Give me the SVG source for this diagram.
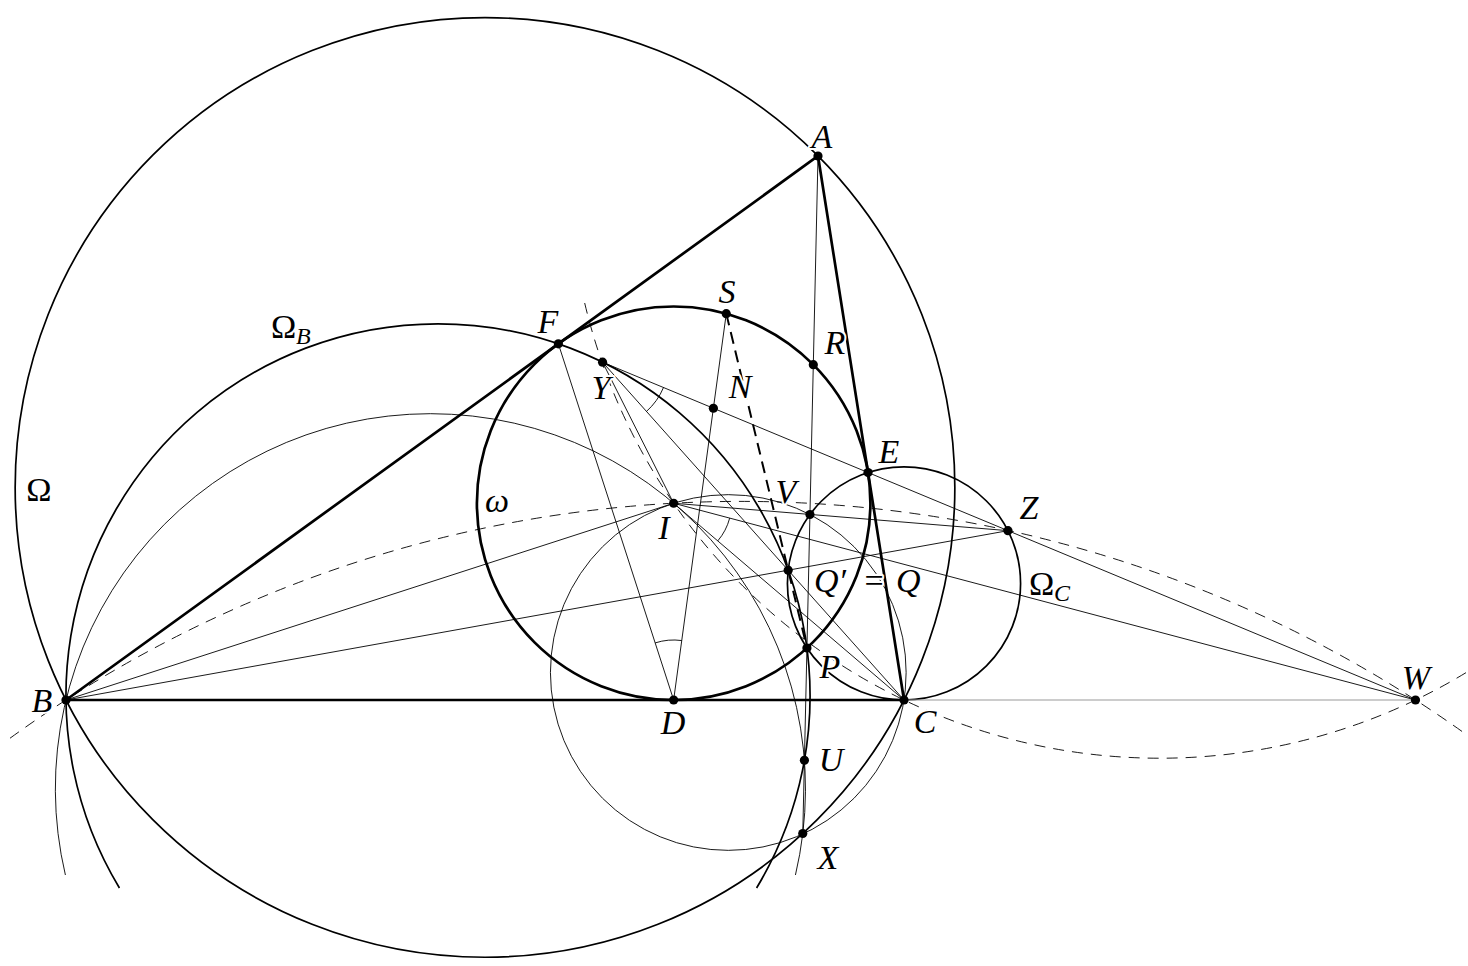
<svg xmlns="http://www.w3.org/2000/svg" width="1468" height="966" viewBox="0 0 1468 966">
<style>
.thick{fill:none;stroke:#000;stroke-width:2.7;stroke-linecap:round}
.med{fill:none;stroke:#000;stroke-width:1.7}
.thin{fill:none;stroke:#000;stroke-width:0.9}
.gray{fill:none;stroke:#999;stroke-width:1}
.dash{fill:none;stroke:#000;stroke-width:0.9;stroke-dasharray:11 8}
.tdash{fill:none;stroke:#000;stroke-width:2;stroke-dasharray:12 7}
.dot{fill:#000}
.lbl{font-family:"Liberation Serif","DejaVu Serif",serif;font-style:italic;font-size:34px;fill:#000;stroke:#fff;stroke-width:4;stroke-linejoin:round;paint-order:stroke}
.up{font-style:normal}
.sub{font-size:24px}
</style>
<rect width="1468" height="966" fill="#fff"/>
<g id="connectors">
  <circle class="med" cx="485" cy="487.43" r="469.84"/>
  <circle class="thick" cx="673.65" cy="503.24" r="196.76"/>
  <circle class="med" cx="904" cy="583.42" r="116.58"/>
  <circle class="thin" cx="728.28" cy="672.5" r="177.85"/>
  <path class="med" d="M119.44 888 A372.03 372.03 0 1 1 756.58 888"/>
  <path class="thin" d="M65.4 875 A375.07 375.07 0 1 1 795.44 875"/>
  <path class="dash" d="M10 738.23 A1245.8 1245.8 0 0 1 1468 735.7"/>
  <path class="dash" d="M584.68 303 A590.85 590.85 0 0 0 1468 671.44"/>
  <path class="thick" d="M66 700 L818 156 L904 700 Z"/>
  <line class="gray" x1="904" y1="700" x2="1415.5" y2="700"/>
  <line class="thin" x1="818" y1="156" x2="802.77" y2="833.5"/>
  <line class="thin" x1="558.37" y1="343.82" x2="673.65" y2="700"/>
  <line class="thin" x1="726.27" y1="313.63" x2="673.65" y2="700"/>
  <line class="thin" x1="66" y1="700" x2="673.65" y2="503.24"/>
  <line class="thin" x1="66" y1="700" x2="1007.97" y2="530.67"/>
  <line class="thin" x1="602.56" y1="362.2" x2="1415.5" y2="700"/>
  <line class="thin" x1="602.56" y1="362.2" x2="904" y2="700"/>
  <line class="thin" x1="602.56" y1="362.2" x2="673.65" y2="503.24"/>
  <line class="thin" x1="673.65" y1="503.24" x2="1007.97" y2="530.67"/>
  <line class="thin" x1="673.65" y1="503.24" x2="1415.5" y2="700"/>
  <line class="thin" x1="673.65" y1="503.24" x2="904" y2="700"/>
  <line class="tdash" x1="726.27" y1="313.63" x2="806.94" y2="648"/>
  <path class="thin" d="M663.5 387.5 A66 66 0 0 1 646.5 411.4"/>
  <path class="thin" d="M729.7 518.1 A58 58 0 0 1 717.75 540.9"/>
  <path class="thin" d="M655.2 642.9 A60 60 0 0 1 681.75 640.55"/>
</g>
<g id="labels-curves">
  <text class="lbl up" x="39" y="501" text-anchor="middle">Ω</text>
  <text class="lbl" x="497" y="512" text-anchor="middle">ω</text>
  <text class="lbl up" x="271" y="338">Ω</text><text class="lbl sub" x="296" y="344">B</text>
  <text class="lbl up" x="1029" y="595">Ω</text><text class="lbl sub" x="1054" y="601">C</text>
</g>
<g id="A"><text class="lbl" x="822" y="148" text-anchor="middle">A</text><circle class="dot" cx="818" cy="156" r="4.6"/></g>
<g id="B"><text class="lbl" x="42" y="712" text-anchor="middle">B</text><circle class="dot" cx="66" cy="700" r="4.6"/></g>
<g id="C"><text class="lbl" x="925" y="733" text-anchor="middle">C</text><circle class="dot" cx="904" cy="700" r="4.6"/></g>
<g id="D"><text class="lbl" x="673" y="734" text-anchor="middle">D</text><circle class="dot" cx="673.65" cy="700" r="4.6"/></g>
<g id="E"><text class="lbl" x="889" y="463" text-anchor="middle">E</text><circle class="dot" cx="868.04" cy="472.52" r="4.6"/></g>
<g id="F"><text class="lbl" x="548" y="333" text-anchor="middle">F</text><circle class="dot" cx="558.37" cy="343.82" r="4.6"/></g>
<g id="I"><text class="lbl" x="664" y="539" text-anchor="middle">I</text><circle class="dot" cx="673.65" cy="503.24" r="4.6"/></g>
<g id="S"><text class="lbl" x="727" y="303" text-anchor="middle">S</text><circle class="dot" cx="726.27" cy="313.63" r="4.6"/></g>
<g id="R"><text class="lbl" x="835" y="354" text-anchor="middle">R</text><circle class="dot" cx="813.31" cy="364.65" r="4.6"/></g>
<g id="N"><text class="lbl" x="740" y="398" text-anchor="middle">N</text><circle class="dot" cx="713.38" cy="408.25" r="4.6"/></g>
<g id="Y"><text class="lbl" x="601" y="399" text-anchor="middle">Y</text><circle class="dot" cx="602.56" cy="362.2" r="4.6"/></g>
<g id="V"><text class="lbl" x="786" y="503" text-anchor="middle">V</text><circle class="dot" cx="809.94" cy="514.5" r="4.6"/></g>
<g id="Z"><text class="lbl" x="1029" y="519" text-anchor="middle">Z</text><circle class="dot" cx="1007.97" cy="530.67" r="4.6"/></g>
<g id="Qp"><text class="lbl" x="814" y="592">Q′</text><text class="lbl up" x="874" y="592" text-anchor="middle">=</text><text class="lbl" x="896" y="592">Q</text><circle class="dot" cx="788.17" cy="570.2" r="4.6"/></g>
<g id="P"><text class="lbl" x="830" y="678" text-anchor="middle">P</text><circle class="dot" cx="806.94" cy="648" r="4.6"/></g>
<g id="U"><text class="lbl" x="831" y="771" text-anchor="middle">U</text><circle class="dot" cx="804.41" cy="760.35" r="4.6"/></g>
<g id="X"><text class="lbl" x="828" y="869" text-anchor="middle">X</text><circle class="dot" cx="802.77" cy="833.5" r="4.6"/></g>
<g id="W"><text class="lbl" x="1416" y="689" text-anchor="middle">W</text><circle class="dot" cx="1415.5" cy="700" r="4.6"/></g>
</svg>
